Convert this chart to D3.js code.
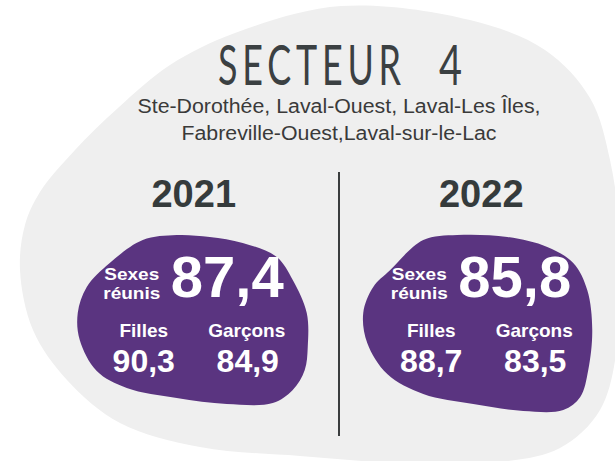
<html>
<head>
<meta charset="utf-8" />
<title>Secteur 4</title>
<script src="https://d3js.org/d3.v7.min.js"></script>
<style>
  body { margin: 0; background: #fff; }
  text { font-family: "Liberation Sans", Arial, sans-serif; }
</style>
</head>
<body>
<svg width="615" height="461" id="svg1"></svg>
<script>
// données
var titre = "SECTEUR 4";
var quartiers = ["Ste-Dorothée, Laval-Ouest, Laval-Les Îles,", "Fabreville-Ouest,Laval-sur-le-Lac"];
var largeurs = [403, 315];
var annees = ["2021", "2022"];
var sexesReunis = [87.4, 85.8];
var filles = [90.3, 88.7];
var garcons = [84.9, 83.5];

var fr = d3.formatLocale({decimal: ",", thousands: " ", grouping: [3], currency: ["", " $"]});
var fmt = fr.format(".1f");

var svg = d3.select("#svg1");
var line = d3.line().curve(d3.curveCatmullRomClosed);

// grand fond gris
var fond = [[341,6],[470,20],[545,50],[590,98],[610,160],[620,240],[618,340],[600,410],[560,448],
            [500,462],[400,463],[300,456],[200,447],[120,423],[67,380],[33,330],[20,270],
            [25,225],[40,192],[75,150],[118,108],[170,65],[235,33]];
svg.append("path").attr("d", line(fond)).attr("fill", "#efefef");

// titre : mot + chiffre, espace large entre les deux
var sx = 0.64;
var mots = titre.split(" ");
var posTitre = [[218, 183], [439, 23]];
mots.forEach(function(m, i) {
  svg.append("g").attr("transform", "translate(" + posTitre[i][0] + ",85) scale(" + sx + ",1)")
    .append("text")
    .attr("font-size", 56)
    .attr("font-weight", 400)
    .style("font-family", "Lato, 'Open Sans', sans-serif")
    .attr("fill", "#3b4042")
    .attr("textLength", posTitre[i][1] / sx)
    .attr("lengthAdjust", i === 0 ? "spacing" : "spacingAndGlyphs")
    .text(m);
});

svg.selectAll(".sous").data(quartiers).enter().append("text")
  .attr("class", "sous")
  .attr("x", 339)
  .attr("y", function(d, i) { return 113 + i * 27; })
  .attr("text-anchor", "middle")
  .attr("font-size", 19.5)
  .attr("fill", "#3a3a3a")
  .attr("textLength", function(d, i) { return largeurs[i]; })
  .attr("lengthAdjust", "spacingAndGlyphs")
  .text(function(d) { return d; });

// colonnes
var x = d3.scaleBand().domain(annees).range([50, 625]);

svg.append("line")
  .attr("x1", 339).attr("x2", 339).attr("y1", 172).attr("y2", 436)
  .attr("stroke", "#3a3d3e").attr("stroke-width", 2);

// formes violettes (relatives au centre de la colonne)
var formes = [
  [[-17,235],[16,237],[49,243],[83,257],[99,280],[113,313],[114,347],[111,370],[99,390],[79,403],
   [33,404],[-17,398],[-67,388],[-97,371],[-114,340],[-116,313],[-107,287],[-84,263],[-51,240]],
  [[-24,235],[26,237],[66,247],[92,263],[106,290],[111,330],[107,370],[99,397],[82,410],[42,411],
   [-8,404],[-58,394],[-94,374],[-114,343],[-118,313],[-108,287],[-91,270],[-58,240]]
];

var col = svg.selectAll(".col").data(annees).enter().append("g")
  .attr("class", "col")
  .attr("transform", function(d) { return "translate(" + (x(d) + x.bandwidth() / 2) + ",0)"; });

col.append("text")
  .attr("y", 207).attr("text-anchor", "middle")
  .attr("font-size", 38).attr("font-weight", "bold").attr("fill", "#353b3c")
  .text(function(d) { return d; });

col.append("path")
  .attr("d", function(d, i) { return line(formes[i]); })
  .attr("fill", "#5a3480");

function blanc(sel, xx, yy, size, txt) {
  return sel.append("text")
    .attr("x", xx).attr("y", yy).attr("text-anchor", "middle")
    .attr("font-size", size).attr("font-weight", "bold").attr("fill", "#fff")
    .text(txt);
}

col.each(function(d, i) {
  var s = d3.select(this);
  // "Sexes / réunis" sur deux lignes serrées
  blanc(s, -62, 280, 17, "Sexes").attr("textLength", 55).attr("lengthAdjust", "spacingAndGlyphs");
  blanc(s, -62, 299, 17, "réunis").attr("textLength", 57).attr("lengthAdjust", "spacingAndGlyphs");
  s.append("text")
    .attr("x", -23).attr("y", 297).attr("text-anchor", "start")
    .attr("font-size", 58).attr("font-weight", "bold").attr("fill", "#fff")
    .text(fmt(sexesReunis[i]));
  blanc(s, -50, 337, 19, "Filles");
  blanc(s, 53, 337, 19, "Garçons");
  blanc(s, -50, 372, 32, fmt(filles[i]));
  blanc(s, 54, 372, 32, fmt(garcons[i]));
});
</script>
</body>
</html>
